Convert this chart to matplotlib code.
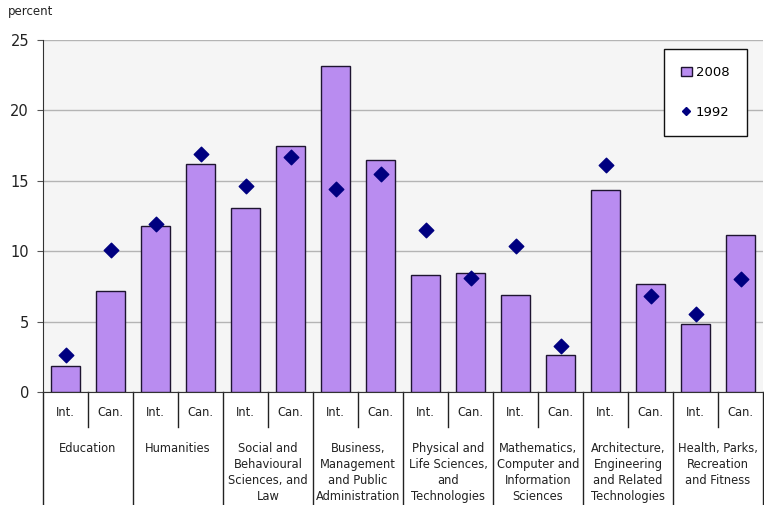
import matplotlib
matplotlib.use("Agg")
import matplotlib.pyplot as plt
from matplotlib.lines import Line2D
from matplotlib.patches import Patch
import numpy as np

groups = ["Education", "Humanities", "Social and\nBehavioural\nSciences, and\nLaw",
          "Business,\nManagement\nand Public\nAdministration",
          "Physical and\nLife Sciences,\nand\nTechnologies",
          "Mathematics,\nComputer and\nInformation\nSciences",
          "Architecture,\nEngineering\nand Related\nTechnologies",
          "Health, Parks,\nRecreation\nand Fitness"]
sub_labels = ["Int.", "Can."]
values_2008 = [1.85, 7.2, 11.8, 16.2, 13.1, 17.5, 23.15, 16.5,
               8.3, 8.45, 6.9, 2.6, 14.35, 7.7, 4.85, 11.15]
values_1992 = [2.6, 10.1, 11.9, 16.9, 14.6, 16.7, 14.4, 15.5,
               11.5, 8.1, 10.35, 3.3, 16.1, 6.85, 5.55, 8.0]
yticks = [0, 5, 10, 15, 20, 25]

W, H = 764, 505
fig = plt.figure(figsize=(W/100, H/100), dpi=100)
L, R, T, B = 43, 763, 40, 392
ax = fig.add_axes([L/W, 1-B/H, (R-L)/W, (B-T)/H])
ax.set_facecolor("#f5f5f5")

x = np.arange(len(values_2008))
ax.bar(x, values_2008, width=0.64, color="#b98cf0", edgecolor="#1e1430", linewidth=1.0, zorder=3, label="2008")
ax.scatter(x, values_1992, marker="D", s=55, color="#000080", zorder=4, label="1992")

ax.set_xlim(-0.5, len(x)-0.5)
ax.set_ylim(0, 25)
ax.set_yticks(yticks)
ax.set_yticklabels([str(v) for v in yticks], fontsize=10.5, color="#222222")
ax.yaxis.grid(True, color="#b4b4b4", linewidth=1.0, zorder=0)
ax.set_xticks([])
ax.tick_params(axis="y", length=4, color="#555555", pad=6)
for s in ["top", "right"]:
    ax.spines[s].set_visible(False)
ax.spines["left"].set_color("#333333")
ax.spines["bottom"].set_color("#333333")

tr = ax.get_xaxis_transform()
ah = B - T
def fy(px):
    return -px/ah

for i in range(len(x)):
    ax.text(x[i], fy(21), sub_labels[i % 2], transform=tr, ha="center", va="center",
            fontsize=8.3, color="#222222")
for g in range(len(groups)):
    ax.text(2*g + 0.5, fy(50), groups[g], transform=tr, ha="center", va="top",
            fontsize=8.3, color="#222222", linespacing=1.3)
    ax.add_line(Line2D([2*g + 0.5]*2, [0, fy(35)], transform=tr, color="#222222",
                       linewidth=1.0, clip_on=False))
for g in range(len(groups)+1):
    ax.add_line(Line2D([2*g - 0.5]*2, [0, fy(H-B+2)], transform=tr, color="#222222",
                       linewidth=1.0, clip_on=False))

fig.text(8/W, 1-11/H, "percent", fontsize=8.5, va="center", ha="left", color="#222222")

handles = [Patch(facecolor="#b98cf0", edgecolor="#1e1430", linewidth=1.0, label="2008"),
           Line2D([], [], marker="D", linestyle="none", markersize=4, color="#000080", label="1992")]
leg = ax.legend(handles=handles, loc="upper left", bbox_to_anchor=((664-L)/(R-L), 1-(49-T)/ah),
                fontsize=9.5, frameon=True, fancybox=False, edgecolor="#111111", framealpha=1,
                labelspacing=2.0, handlelength=0.8, handletextpad=0.3, borderpad=1.3,
                borderaxespad=0)
leg.get_frame().set_linewidth(1.0)

fig.savefig("out.png", dpi=100)
